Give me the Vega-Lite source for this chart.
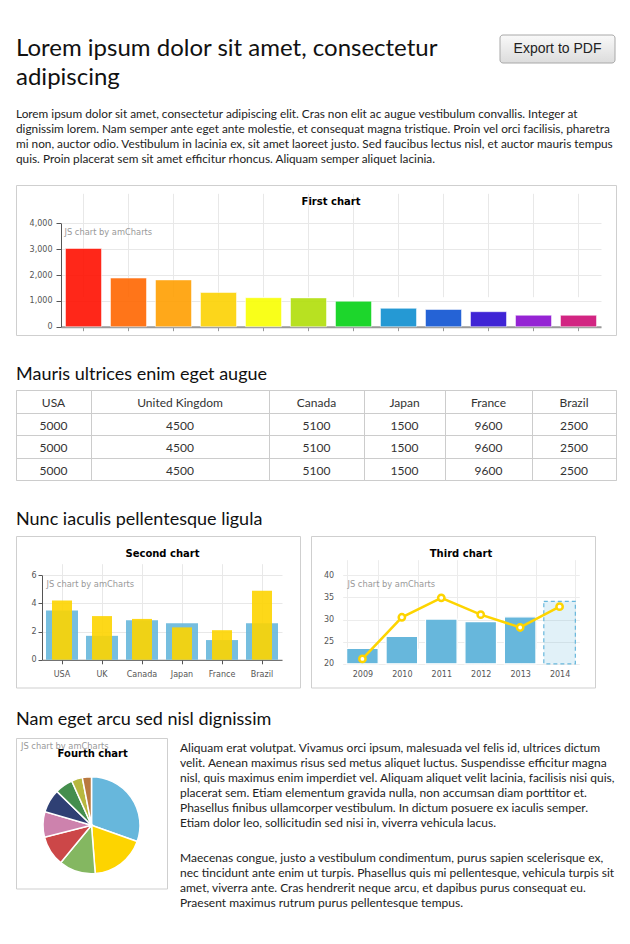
{
  "$schema": "https://vega.github.io/schema/vega-lite/v6.json",
  "background": "white",
  "padding": {"left": 15, "top": 34, "right": 5, "bottom": 5},
  "config": {"view": {"stroke": null}, "font": "Lato"},
  "resolve": {"scale": {"color": "independent"}},
  "datasets": {
    "table": [
      {"country": "USA", "row": 0, "cell": "USA"}, {"country": "USA", "row": 1, "cell": "5000"}, {"country": "USA", "row": 2, "cell": "5000"}, {"country": "USA", "row": 3, "cell": "5000"},
      {"country": "United Kingdom", "row": 0, "cell": "United Kingdom"}, {"country": "United Kingdom", "row": 1, "cell": "4500"}, {"country": "United Kingdom", "row": 2, "cell": "4500"}, {"country": "United Kingdom", "row": 3, "cell": "4500"},
      {"country": "Canada", "row": 0, "cell": "Canada"}, {"country": "Canada", "row": 1, "cell": "5100"}, {"country": "Canada", "row": 2, "cell": "5100"}, {"country": "Canada", "row": 3, "cell": "5100"},
      {"country": "Japan", "row": 0, "cell": "Japan"}, {"country": "Japan", "row": 1, "cell": "1500"}, {"country": "Japan", "row": 2, "cell": "1500"}, {"country": "Japan", "row": 3, "cell": "1500"},
      {"country": "France", "row": 0, "cell": "France"}, {"country": "France", "row": 1, "cell": "9600"}, {"country": "France", "row": 2, "cell": "9600"}, {"country": "France", "row": 3, "cell": "9600"},
      {"country": "Brazil", "row": 0, "cell": "Brazil"}, {"country": "Brazil", "row": 1, "cell": "2500"}, {"country": "Brazil", "row": 2, "cell": "2500"}, {"country": "Brazil", "row": 3, "cell": "2500"}
    ]
  },
  "spacing": 0,
  "vconcat": [
    {
      "hconcat": [
        {
          "width": 469, "height": 65.5,
          "data": {"values": [{"line": 1, "text": "Lorem ipsum dolor sit amet, consectetur"}, {"line": 2, "text": "adipiscing"}]},
          "mark": {"type": "text", "align": "left", "baseline": "alphabetic", "font": "Lato", "fontSize": 24, "color": "#111111"},
          "encoding": {
            "x": {"datum": 0, "type": "quantitative", "scale": {"domain": [0, 1]}, "axis": null},
            "y": {"field": "line", "type": "quantitative", "scale": {"domain": [1, 2], "range": [20.5, 49.5]}, "axis": null},
            "text": {"field": "text"}
          }
        },
        {
          "width": 115, "height": 28,
          "data": {"values": [{"label": "Export to PDF"}]},
          "layer": [
            {
              "mark": {"type": "rect", "cornerRadius": 3, "stroke": "#a8a8a8", "strokeWidth": 1,
                "fill": {"gradient": "linear", "x1": 0, "y1": 0, "x2": 0, "y2": 1, "stops": [{"offset": 0, "color": "#f9f9f9"}, {"offset": 1, "color": "#dcdcdc"}]}},
              "encoding": {
                "x": {"datum": 0, "type": "quantitative", "scale": {"domain": [0, 1]}, "axis": null},
                "x2": {"datum": 1},
                "y": {"datum": 0, "type": "quantitative", "scale": {"domain": [0, 1]}, "axis": null},
                "y2": {"datum": 1}
              }
            },
            {
              "mark": {"type": "text", "font": "Liberation Sans", "fontSize": 14, "color": "#222222", "baseline": "middle"},
              "encoding": {
                "x": {"datum": 0.5, "type": "quantitative", "axis": null},
                "y": {"datum": 0.5, "type": "quantitative", "axis": null},
                "text": {"field": "label"}
              }
            }
          ]
        }
      ],
      "spacing": 15,
      "bounds": "flush"
    },
    {
      "width": 600, "height": 83,
      "data": {"values": [
        {"line": 1, "text": "Lorem ipsum dolor sit amet, consectetur adipiscing elit. Cras non elit ac augue vestibulum convallis. Integer at"},
        {"line": 2, "text": "dignissim lorem. Nam semper ante eget ante molestie, et consequat magna tristique. Proin vel orci facilisis, pharetra"},
        {"line": 3, "text": "mi non, auctor odio. Vestibulum in lacinia ex, sit amet laoreet justo. Sed faucibus lectus nisl, et auctor mauris tempus"},
        {"line": 4, "text": "quis. Proin placerat sem sit amet efficitur rhoncus. Aliquam semper aliquet lacinia."}
      ]},
      "mark": {"type": "text", "align": "left", "baseline": "alphabetic", "font": "Lato", "fontSize": 11.8, "color": "#222222"},
      "encoding": {
        "x": {"datum": 0, "type": "quantitative", "scale": {"domain": [0, 1]}, "axis": null},
        "y": {"field": "line", "type": "quantitative", "scale": {"domain": [1, 4], "range": [16.7, 61.7]}, "axis": null},
        "text": {"field": "text"}
      }
    },
    {
      "width": 600, "height": 150,
      "view": {"stroke": "#cfcfcf"},
      "title": {"text": "First chart", "font": "DejaVu Sans", "fontSize": 10, "fontWeight": "bold", "color": "#000000", "anchor": "middle", "frame": "group", "baseline": "alphabetic", "offset": -29.5, "dx": 15},
      "data": {"values": [
        {"country": "USA", "visits": 3025}, {"country": "China", "visits": 1882}, {"country": "Japan", "visits": 1809},
        {"country": "Germany", "visits": 1322}, {"country": "UK", "visits": 1122}, {"country": "France", "visits": 1114},
        {"country": "India", "visits": 984}, {"country": "Spain", "visits": 711}, {"country": "Netherlands", "visits": 665},
        {"country": "Russia", "visits": 580}, {"country": "South Korea", "visits": 443}, {"country": "Canada", "visits": 441}
      ]},
      "mark": {"type": "bar", "fillOpacity": 0.9, "stroke": "#ffffff", "strokeOpacity": 0.5, "strokeWidth": 1},
      "encoding": {
        "x": {"field": "country", "type": "nominal", "sort": null,
          "scale": {"range": [45, 585], "paddingInner": 0.2, "paddingOuter": 0.1},
          "axis": {"orient": "bottom", "offset": -8.3, "labels": false, "title": null, "domainColor": "#999999", "domainWidth": 2, "tickColor": "#999999", "tickSize": 4, "grid": true, "gridColor": "#e8e8e8", "tickBand": "center"}},
        "y": {"field": "visits", "type": "quantitative",
          "scale": {"domain": [0, 4000], "range": [141.7, 38.3]},
          "axis": {"orient": "left", "offset": -45, "values": [0, 1000, 2000, 3000, 4000], "format": ",d",
            "labelFont": "DejaVu Sans", "labelFontSize": 8, "labelColor": "#555555", "labelPadding": 4,
            "tickSize": 5, "tickColor": "#555555", "domainColor": "#555555", "grid": true, "gridColor": "#e8e8e8",
            "title": "JS chart by amCharts", "titleAngle": 0, "titleAlign": "left", "titleBaseline": "alphabetic",
            "titleX": 3, "titleY": 49, "titleFont": "DejaVu Sans", "titleFontSize": 8.3, "titleFontWeight": "normal", "titleColor": "#999999"}},
        "color": {"field": "country", "type": "nominal", "legend": null,
          "scale": {"domain": ["USA", "China", "Japan", "Germany", "UK", "France", "India", "Spain", "Netherlands", "Russia", "South Korea", "Canada"],
            "range": ["#FF0F00", "#FF6600", "#FF9E01", "#FCD202", "#F8FF01", "#B0DE09", "#04D215", "#0D8ECF", "#0D52D1", "#2A0CD0", "#8A0CCF", "#CD0D74"]}}
      }
    },
    {
      "width": 600, "height": 53,
      "data": {"values": [{"line": 1, "text": "Mauris ultrices enim eget augue"}]},
      "mark": {"type": "text", "align": "left", "baseline": "alphabetic", "font": "Lato", "fontSize": 18, "color": "#111111"},
      "encoding": {
        "x": {"datum": 0, "type": "quantitative", "scale": {"domain": [0, 1]}, "axis": null},
        "y": {"field": "line", "type": "quantitative", "scale": {"domain": [1, 2], "range": [43.8, 73.8]}, "axis": null},
        "text": {"field": "text"}
      }
    },
    {
      "hconcat": [
        {"width": 75, "height": 90, "view": {"stroke": "#cccccc"}, "data": {"name": "table"},
         "transform": [{"filter": {"field": "country", "equal": "USA"}}],
         "mark": {"type": "text", "font": "Lato", "fontSize": 12, "color": "#333333", "baseline": "middle", "dy": 2},
         "encoding": {"x": {"datum": 0.5, "type": "quantitative", "scale": {"domain": [0, 1]}, "axis": null},
           "y": {"field": "row", "type": "ordinal", "scale": {"type": "band", "paddingInner": 0, "paddingOuter": 0}, "axis": {"grid": true, "tickBand": "extent", "labels": false, "ticks": false, "domain": false, "title": null, "gridColor": "#cccccc"}},
           "text": {"field": "cell"}}},
        {"width": 178, "height": 90, "view": {"stroke": "#cccccc"}, "data": {"name": "table"},
         "transform": [{"filter": {"field": "country", "equal": "United Kingdom"}}],
         "mark": {"type": "text", "font": "Lato", "fontSize": 12, "color": "#333333", "baseline": "middle", "dy": 2},
         "encoding": {"x": {"datum": 0.5, "type": "quantitative", "scale": {"domain": [0, 1]}, "axis": null},
           "y": {"field": "row", "type": "ordinal", "scale": {"type": "band", "paddingInner": 0, "paddingOuter": 0}, "axis": {"grid": true, "tickBand": "extent", "labels": false, "ticks": false, "domain": false, "title": null, "gridColor": "#cccccc"}},
           "text": {"field": "cell"}}},
        {"width": 95, "height": 90, "view": {"stroke": "#cccccc"}, "data": {"name": "table"},
         "transform": [{"filter": {"field": "country", "equal": "Canada"}}],
         "mark": {"type": "text", "font": "Lato", "fontSize": 12, "color": "#333333", "baseline": "middle", "dy": 2},
         "encoding": {"x": {"datum": 0.5, "type": "quantitative", "scale": {"domain": [0, 1]}, "axis": null},
           "y": {"field": "row", "type": "ordinal", "scale": {"type": "band", "paddingInner": 0, "paddingOuter": 0}, "axis": {"grid": true, "tickBand": "extent", "labels": false, "ticks": false, "domain": false, "title": null, "gridColor": "#cccccc"}},
           "text": {"field": "cell"}}},
        {"width": 81, "height": 90, "view": {"stroke": "#cccccc"}, "data": {"name": "table"},
         "transform": [{"filter": {"field": "country", "equal": "Japan"}}],
         "mark": {"type": "text", "font": "Lato", "fontSize": 12, "color": "#333333", "baseline": "middle", "dy": 2},
         "encoding": {"x": {"datum": 0.5, "type": "quantitative", "scale": {"domain": [0, 1]}, "axis": null},
           "y": {"field": "row", "type": "ordinal", "scale": {"type": "band", "paddingInner": 0, "paddingOuter": 0}, "axis": {"grid": true, "tickBand": "extent", "labels": false, "ticks": false, "domain": false, "title": null, "gridColor": "#cccccc"}},
           "text": {"field": "cell"}}},
        {"width": 87, "height": 90, "view": {"stroke": "#cccccc"}, "data": {"name": "table"},
         "transform": [{"filter": {"field": "country", "equal": "France"}}],
         "mark": {"type": "text", "font": "Lato", "fontSize": 12, "color": "#333333", "baseline": "middle", "dy": 2},
         "encoding": {"x": {"datum": 0.5, "type": "quantitative", "scale": {"domain": [0, 1]}, "axis": null},
           "y": {"field": "row", "type": "ordinal", "scale": {"type": "band", "paddingInner": 0, "paddingOuter": 0}, "axis": {"grid": true, "tickBand": "extent", "labels": false, "ticks": false, "domain": false, "title": null, "gridColor": "#cccccc"}},
           "text": {"field": "cell"}}},
        {"width": 84, "height": 90, "view": {"stroke": "#cccccc"}, "data": {"name": "table"},
         "transform": [{"filter": {"field": "country", "equal": "Brazil"}}],
         "mark": {"type": "text", "font": "Lato", "fontSize": 12, "color": "#333333", "baseline": "middle", "dy": 2},
         "encoding": {"x": {"datum": 0.5, "type": "quantitative", "scale": {"domain": [0, 1]}, "axis": null},
           "y": {"field": "row", "type": "ordinal", "scale": {"type": "band", "paddingInner": 0, "paddingOuter": 0}, "axis": {"grid": true, "tickBand": "extent", "labels": false, "ticks": false, "domain": false, "title": null, "gridColor": "#cccccc"}},
           "text": {"field": "cell"}}}
      ],
      "spacing": 0,
      "bounds": "flush"
    },
    {
      "width": 600, "height": 54,
      "data": {"values": [{"line": 1, "text": "Nunc iaculis pellentesque ligula"}]},
      "mark": {"type": "text", "align": "left", "baseline": "alphabetic", "font": "Lato", "fontSize": 18, "color": "#111111"},
      "encoding": {
        "x": {"datum": 0, "type": "quantitative", "scale": {"domain": [0, 1]}, "axis": null},
        "y": {"field": "line", "type": "quantitative", "scale": {"domain": [1, 2], "range": [43.7, 73.7]}, "axis": null},
        "text": {"field": "text"}
      }
    },
    {
      "hconcat": [
        {
          "width": 284, "height": 151.5,
          "view": {"stroke": "#cfcfcf"},
          "title": {"text": "Second chart", "font": "DejaVu Sans", "fontSize": 10, "fontWeight": "bold", "color": "#000000", "anchor": "middle", "frame": "group", "baseline": "alphabetic", "offset": -30.7, "dx": 4.5},
          "data": {"values": [
            {"country": "USA", "year": "2004", "value": 3.5}, {"country": "USA", "year": "2005", "value": 4.2},
            {"country": "UK", "year": "2004", "value": 1.7}, {"country": "UK", "year": "2005", "value": 3.1},
            {"country": "Canada", "year": "2004", "value": 2.8}, {"country": "Canada", "year": "2005", "value": 2.9},
            {"country": "Japan", "year": "2004", "value": 2.6}, {"country": "Japan", "year": "2005", "value": 2.3},
            {"country": "France", "year": "2004", "value": 1.4}, {"country": "France", "year": "2005", "value": 2.1},
            {"country": "Brazil", "year": "2004", "value": 2.6}, {"country": "Brazil", "year": "2005", "value": 4.9}
          ]},
          "encoding": {
            "x": {"field": "country", "type": "nominal", "sort": null,
              "scale": {"range": [26, 266], "paddingInner": 0.2, "paddingOuter": 0.1},
              "axis": {"orient": "bottom", "offset": -27.7, "title": null, "labelAngle": 0, "labelFont": "DejaVu Sans", "labelFontSize": 8, "labelColor": "#555555", "labelBaseline": "alphabetic", "labelPadding": 12.4, "tickSize": 4, "tickColor": "#555555", "domainColor": "#555555", "grid": true, "gridColor": "#e8e8e8", "tickBand": "center"}},
            "y": {"field": "value", "type": "quantitative",
              "scale": {"domain": [0, 6], "range": [123.8, 39.2]},
              "axis": {"orient": "left", "offset": -26, "values": [0, 2, 4, 6], "labelFont": "DejaVu Sans", "labelFontSize": 8, "labelColor": "#555555", "labelPadding": 2,
                "tickSize": 4, "tickColor": "#555555", "domainColor": "#555555", "grid": true, "gridColor": "#e8e8e8",
                "title": "JS chart by amCharts", "titleAngle": 0, "titleAlign": "left", "titleBaseline": "alphabetic",
                "titleX": 4, "titleY": 50.2, "titleFont": "DejaVu Sans", "titleFontSize": 8.3, "titleFontWeight": "normal", "titleColor": "#999999"}}
          },
          "layer": [
            {"transform": [{"filter": "datum.year == '2004'"}], "mark": {"type": "bar", "color": "#67b7dc", "opacity": 0.9}},
            {"transform": [{"filter": "datum.year == '2005'"}], "mark": {"type": "bar", "color": "#fdd400", "opacity": 0.9, "width": {"band": 0.625}}}
          ]
        },
        {
          "width": 284, "height": 151.5,
          "view": {"stroke": "#cfcfcf"},
          "title": {"text": "Third chart", "font": "DejaVu Sans", "fontSize": 10, "fontWeight": "bold", "color": "#000000", "anchor": "middle", "frame": "group", "baseline": "alphabetic", "offset": -30.7, "dx": 8},
          "data": {"values": [
            {"year": "2009", "series": "income", "value": 23.5}, {"year": "2009", "series": "expenses", "value": 21.1},
            {"year": "2010", "series": "income", "value": 26.2}, {"year": "2010", "series": "expenses", "value": 30.5},
            {"year": "2011", "series": "income", "value": 30.1}, {"year": "2011", "series": "expenses", "value": 34.9},
            {"year": "2012", "series": "income", "value": 29.5}, {"year": "2012", "series": "expenses", "value": 31.1},
            {"year": "2013", "series": "income", "value": 30.6}, {"year": "2013", "series": "expenses", "value": 28.2},
            {"year": "2014", "series": "income", "value": 34.1}, {"year": "2014", "series": "expenses", "value": 32.9}
          ]},
          "encoding": {
            "x": {"field": "year", "type": "nominal", "sort": null,
              "scale": {"range": [31.7, 268.3], "paddingInner": 0.2, "paddingOuter": 0.1},
              "axis": {"orient": "bottom", "offset": -23.7, "title": null, "labelAngle": 0, "labelFont": "DejaVu Sans", "labelFontSize": 8, "labelColor": "#555555", "labelBaseline": "alphabetic", "labelPadding": 12.4, "ticks": false, "tickSize": 0, "domain": false, "grid": true, "gridColor": "#ececec", "tickBand": "extent"}},
            "y": {"field": "value", "type": "quantitative",
              "scale": {"domain": [20, 40], "range": [127.8, 39.2]},
              "axis": {"orient": "left", "offset": -31.7, "values": [20, 25, 30, 35, 40], "labelFont": "DejaVu Sans", "labelFontSize": 8, "labelColor": "#555555", "labelPadding": 9,
                "ticks": false, "tickSize": 0, "domain": false, "grid": true, "gridColor": "#ececec",
                "title": "JS chart by amCharts", "titleAngle": 0, "titleAlign": "left", "titleBaseline": "alphabetic",
                "titleX": 4.3, "titleY": 50.2, "titleFont": "DejaVu Sans", "titleFontSize": 8.3, "titleFontWeight": "normal", "titleColor": "#999999"}}
          },
          "layer": [
            {"transform": [{"filter": "datum.series == 'income'"}],
             "mark": {"type": "bar", "color": "#67b7dc", "strokeWidth": 1.2},
             "encoding": {
               "y2": {"datum": 20},
               "fillOpacity": {"condition": {"test": "datum.year == '2014'", "value": 0.2}, "value": 1},
               "stroke": {"condition": {"test": "datum.year == '2014'", "value": "#67b7dc"}, "value": "#ffffff"},
               "strokeDash": {"condition": {"test": "datum.year == '2014'", "value": [4, 3]}, "value": [1, 0]}
             }},
            {"transform": [{"filter": "datum.series == 'expenses'"}],
             "mark": {"type": "line", "color": "#fdd400", "strokeWidth": 2.5}},
            {"transform": [{"filter": "datum.series == 'expenses'"}],
             "mark": {"type": "point", "filled": true, "fill": "#ffffff", "stroke": "#fdd400", "strokeWidth": 2.5, "size": 40, "opacity": 1}}
          ]
        }
      ],
      "spacing": 11,
      "bounds": "flush"
    },
    {
      "width": 600, "height": 48.5,
      "data": {"values": [{"line": 1, "text": "Nam eget arcu sed nisl dignissim"}]},
      "mark": {"type": "text", "align": "left", "baseline": "alphabetic", "font": "Lato", "fontSize": 18, "color": "#111111"},
      "encoding": {
        "x": {"datum": 0, "type": "quantitative", "scale": {"domain": [0, 1]}, "axis": null},
        "y": {"field": "line", "type": "quantitative", "scale": {"domain": [1, 2], "range": [36.5, 66.5]}, "axis": null},
        "text": {"field": "text"}
      }
    },
    {
      "hconcat": [
        {
          "width": 151, "height": 150.5,
          "view": {"stroke": "#cfcfcf"},
          "title": {"text": "Fourth chart", "font": "DejaVu Sans", "fontSize": 10, "fontWeight": "bold", "color": "#000000", "anchor": "middle", "frame": "group", "baseline": "alphabetic", "offset": -29.2, "dx": 1.2},
          "layer": [
            {
              "data": {"values": [
                {"country": "Lithuania", "litres": 501.9}, {"country": "Czech Republic", "litres": 301.9}, {"country": "Ireland", "litres": 201.1},
                {"country": "Germany", "litres": 165.8}, {"country": "Australia", "litres": 139.9}, {"country": "Austria", "litres": 128.3},
                {"country": "UK", "litres": 99}, {"country": "Belgium", "litres": 60}, {"country": "The Netherlands", "litres": 50}
              ]},
              "mark": {"type": "arc", "radius": 48.5, "stroke": "#ffffff", "strokeWidth": 1.5, "yOffset": 12},
              "encoding": {
                "theta": {"field": "litres", "type": "quantitative", "stack": true},
                "order": {"field": "litres", "type": "quantitative", "sort": "descending"},
                "color": {"field": "country", "type": "nominal", "legend": null,
                  "scale": {"domain": ["Lithuania", "Czech Republic", "Ireland", "Germany", "Australia", "Austria", "UK", "Belgium", "The Netherlands"],
                    "range": ["#67b7dc", "#fdd400", "#84b761", "#cc4748", "#cd82ad", "#2f4074", "#448e4d", "#b7b83f", "#b9783f"]}}
              }
            },
            {
              "data": {"values": [{"t": "JS chart by amCharts"}]},
              "mark": {"type": "text", "align": "left", "baseline": "alphabetic", "font": "DejaVu Sans", "fontSize": 8.3, "color": "#999999"},
              "encoding": {
                "x": {"datum": 0.033, "type": "quantitative", "scale": {"domain": [0, 1]}, "axis": null},
                "y": {"datum": 0.93, "type": "quantitative", "scale": {"domain": [0, 1]}, "axis": null},
                "text": {"field": "t"}
              }
            }
          ]
        },
        {
          "vconcat": [
            {
              "width": 430, "height": 110,
              "data": {"values": [
                {"line": 1, "text": "Aliquam erat volutpat. Vivamus orci ipsum, malesuada vel felis id, ultrices dictum"},
                {"line": 2, "text": "velit. Aenean maximus risus sed metus aliquet luctus. Suspendisse efficitur magna"},
                {"line": 3, "text": "nisl, quis maximus enim imperdiet vel. Aliquam aliquet velit lacinia, facilisis nisi quis,"},
                {"line": 4, "text": "placerat sem. Etiam elementum gravida nulla, non accumsan diam porttitor et."},
                {"line": 5, "text": "Phasellus finibus ullamcorper vestibulum. In dictum posuere ex iaculis semper."},
                {"line": 6, "text": "Etiam dolor leo, sollicitudin sed nisi in, viverra vehicula lacus."}
              ]},
              "mark": {"type": "text", "align": "left", "baseline": "alphabetic", "font": "Lato", "fontSize": 12, "color": "#222222"},
              "encoding": {
                "x": {"datum": 0, "type": "quantitative", "scale": {"domain": [0, 1]}, "axis": null},
                "y": {"field": "line", "type": "quantitative", "scale": {"domain": [1, 6], "range": [14.2, 89.2]}, "axis": null},
                "text": {"field": "text"}
              }
            },
            {
              "width": 430, "height": 75,
              "data": {"values": [
                {"line": 1, "text": "Maecenas congue, justo a vestibulum condimentum, purus sapien scelerisque ex,"},
                {"line": 2, "text": "nec tincidunt ante enim ut turpis. Phasellus quis mi pellentesque, vehicula turpis sit"},
                {"line": 3, "text": "amet, viverra ante. Cras hendrerit neque arcu, et dapibus purus consequat eu."},
                {"line": 4, "text": "Praesent maximus rutrum purus pellentesque tempus."}
              ]},
              "mark": {"type": "text", "align": "left", "baseline": "alphabetic", "font": "Lato", "fontSize": 12, "color": "#222222"},
              "encoding": {
                "x": {"datum": 0, "type": "quantitative", "scale": {"domain": [0, 1]}, "axis": null},
                "y": {"field": "line", "type": "quantitative", "scale": {"domain": [1, 4], "range": [14.2, 59.2]}, "axis": null},
                "text": {"field": "text"}
              }
            }
          ],
          "spacing": 0,
          "bounds": "flush"
        }
      ],
      "spacing": 13,
      "bounds": "flush",
      "resolve": {"scale": {"color": "independent"}}
    }
  ]
}
